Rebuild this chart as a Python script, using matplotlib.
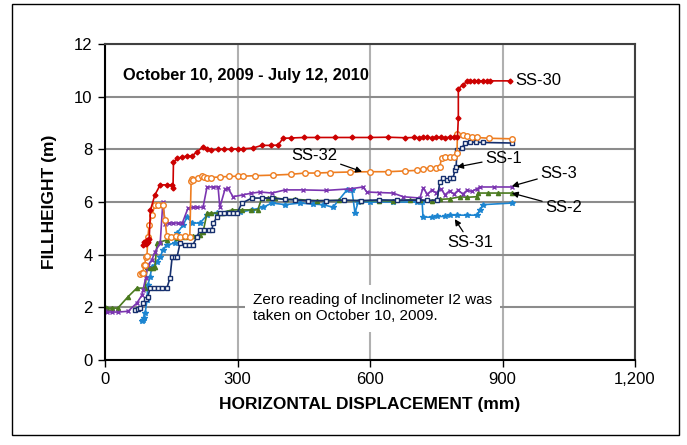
import matplotlib
matplotlib.use("Agg")
import matplotlib.pyplot as plt
from matplotlib.ticker import FuncFormatter
from matplotlib.patches import Rectangle

plt.rcParams["font.family"] = ["Liberation Sans", "DejaVu Sans"]

# horizontal displacement (mm) vs fill height (m) for each inclinometer
ss30_x = [85, 88, 90, 92, 94, 96, 98, 100, 103, 113, 125, 140, 152, 154, 155, 163, 175, 186, 197,
          208, 222, 231, 240, 255, 270, 285, 300, 312, 335, 355, 375, 392, 403, 420, 450, 480, 520,
          560, 600, 640, 680, 700, 710, 720, 730, 740, 750, 760, 770, 780, 790, 798, 800, 800, 810,
          820, 826, 835, 845, 855, 865, 872, 917]
ss30_y = [4.35, 4.5, 4.45, 4.4, 4.55, 4.45, 4.5, 4.6, 5.7, 6.27, 6.65, 6.65, 6.65, 6.55, 7.5, 7.66,
          7.7, 7.75, 7.75, 7.9, 8.1, 8.0, 7.97, 8.0, 8.0, 8.0, 8.02, 8.02, 8.05, 8.15, 8.15, 8.16,
          8.42, 8.43, 8.45, 8.45, 8.45, 8.45, 8.45, 8.46, 8.44, 8.45, 8.44, 8.45, 8.46, 8.44, 8.45,
          8.45, 8.44, 8.46, 8.45, 8.45, 9.2, 10.3, 10.45, 10.58, 10.6, 10.6, 10.6, 10.6, 10.6, 10.6,
          10.6]

ss32_x = [80, 84, 86, 88, 90, 92, 95, 97, 100, 106, 113, 120, 131, 136, 140, 150, 160, 170, 180,
          192, 195, 197, 200, 210, 220, 225, 230, 240, 260, 280, 300, 312, 340, 380, 420, 453, 480,
          510, 555, 600, 640, 680, 706, 720, 736, 750, 758, 762, 770, 780, 790, 797, 798, 810, 820,
          831, 842, 870, 921]
ss32_y = [3.25, 3.3, 3.3, 3.6, 3.6, 3.9, 3.95, 4.67, 5.13, 5.5, 5.88, 5.9, 5.88, 5.3, 4.7, 4.67,
          4.7, 4.67, 4.7, 4.67, 6.8, 6.87, 6.85, 6.9, 7.0, 6.95, 6.9, 6.93, 6.95, 6.97, 6.98, 6.98,
          7.0, 7.02, 7.05, 7.1, 7.1, 7.12, 7.14, 7.15, 7.15, 7.18, 7.2, 7.25, 7.3, 7.3, 7.33, 7.67,
          7.7, 7.7, 7.72, 7.85, 8.6, 8.55, 8.52, 8.48, 8.45, 8.42, 8.4]

ss1_x = [68, 75, 80, 86, 92, 97, 102, 110, 120, 130, 140, 147, 152, 158, 163, 170, 181, 190, 199,
         208, 215, 225, 235, 242, 245, 254, 260, 270, 280, 290, 299, 310, 333, 355, 378, 408, 430,
         460, 500, 540, 580, 620, 660, 709, 730, 752, 758, 765, 775, 781, 788, 792, 795, 797, 808,
         815, 826, 840, 856, 921]
ss1_y = [1.9, 1.95, 1.97, 2.15, 2.3, 2.4, 2.73, 2.73, 2.73, 2.73, 2.73, 3.1, 3.9, 3.9, 3.9, 4.44,
         4.37, 4.37, 4.37, 4.67, 4.94, 4.94, 4.94, 4.94, 5.2, 5.43, 5.58, 5.58, 5.58, 5.58, 5.58,
         5.96, 6.15, 6.15, 6.15, 6.1, 6.08, 6.05, 6.05, 6.07, 6.05, 6.08, 6.07, 6.07, 6.06, 6.07,
         6.76, 6.9, 6.85, 6.9, 6.9, 7.2, 7.33, 7.97, 8.05, 8.24, 8.28, 8.27, 8.26, 8.24]

ss3_x = [0, 5, 15, 29, 52, 72, 84, 86, 92, 97, 106, 113, 125, 131, 136, 145, 155, 165, 175, 188,
         200, 208, 222, 231, 245, 256, 260, 272, 278, 290, 312, 330, 351, 378, 408, 448, 500, 555,
         584, 593, 620, 652, 675, 713, 720, 730, 740, 750, 760, 770, 780, 790, 800, 810, 820, 830,
         842, 849, 880, 921]
ss3_y = [1.85, 1.82, 1.82, 1.82, 1.85, 2.16, 2.47, 2.66, 3.1, 3.6, 3.8, 4.1, 4.44, 6.0, 5.17, 5.2,
         5.2, 5.2, 5.2, 5.77, 5.8, 5.8, 5.8, 6.57, 6.57, 6.57, 5.8, 6.5, 6.53, 6.2, 6.27, 6.33,
         6.38, 6.34, 6.46, 6.46, 6.44, 6.5, 6.57, 6.38, 6.36, 6.34, 6.2, 6.15, 6.53, 6.3, 6.45,
         6.35, 6.5, 6.28, 6.42, 6.3, 6.45, 6.3, 6.45, 6.4, 6.5, 6.57, 6.57, 6.57]

ss2_x = [0, 5, 15, 29, 52, 72, 91, 95, 102, 109, 113, 118, 125, 140, 163, 181, 200, 215, 222, 231,
         240, 255, 265, 288, 310, 330, 346, 355, 370, 385, 410, 430, 480, 530, 580, 620, 652, 690,
         713, 740, 758, 780, 804, 820, 842, 845, 867, 890, 921]
ss2_y = [2.0, 1.97, 1.97, 1.97, 2.4, 2.73, 2.73, 3.53, 3.5, 3.5, 3.55, 4.44, 4.48, 4.56, 4.63,
         4.67, 4.7, 4.75, 4.86, 5.58, 5.58, 5.58, 5.6, 5.7, 5.7, 5.7, 5.7, 6.15, 6.15, 6.15, 6.1,
         6.1, 6.05, 6.06, 6.05, 6.05, 6.04, 6.08, 6.07, 6.05, 6.1, 6.12, 6.2, 6.18, 6.2, 6.34,
         6.34, 6.34, 6.34]

ss31_x = [84, 86, 88, 91, 95, 97, 102, 106, 118, 125, 131, 140, 158, 163, 177, 186, 197, 215, 231,
          254, 276, 306, 333, 358, 378, 408, 442, 470, 494, 516, 548, 559, 566, 573, 600, 652, 706,
          718, 720, 740, 752, 770, 781, 797, 820, 842, 849, 856, 921]
ss31_y = [1.5, 1.52, 1.6, 1.78, 2.28, 2.85, 3.15, 3.53, 3.72, 3.9, 4.18, 4.37, 4.44, 4.82, 5.13,
          5.43, 5.2, 5.2, 5.5, 5.58, 5.6, 5.62, 5.7, 5.8, 5.96, 5.9, 5.96, 5.92, 5.9, 5.8, 6.46,
          6.46, 5.58, 6.0, 6.0, 6.0, 6.0, 6.0, 5.43, 5.42, 5.45, 5.45, 5.5, 5.5, 5.5, 5.5, 5.7,
          5.9, 5.96]

fig = plt.figure(figsize=(6.87, 4.45), dpi=100)
ax = fig.add_axes([105 / 687, 1 - 360 / 445, 530 / 687, 316 / 445])

fig.patches.append(Rectangle((12 / 687, 10 / 445), 667 / 687, 431 / 445, transform=fig.transFigure,
                             fill=False, edgecolor="black", lw=1))

ax.plot(ss31_x, ss31_y, color="#1C85D1", lw=1.2, marker="*", ms=4)
ax.plot(ss2_x, ss2_y, color="#4A7A1E", lw=1.2, marker="^", ms=3)
ax.plot(ss3_x, ss3_y, color="#7B35B0", lw=1.2, marker="x", ms=3.5, mew=1)
ax.plot(ss1_x, ss1_y, color="#17306E", lw=1.2, marker="s", ms=3.5, mfc="white", mew=1)
ax.plot(ss32_x, ss32_y, color="#EE7D20", lw=1.2, marker="o", ms=4, mfc="white", mew=1)
ax.plot(ss30_x, ss30_y, color="#CC0000", lw=1.2, marker="D", ms=2.5)

ax.set_xlim(0, 1200)
ax.set_ylim(0, 12)
ax.set_xticks([0, 300, 600, 900, 1200])
ax.set_yticks([0, 2, 4, 6, 8, 10, 12])
ax.xaxis.set_major_formatter(FuncFormatter(lambda v, p: f"{v:,.0f}"))
ax.tick_params(direction="out", length=5, width=1, labelsize=12, pad=4)
ax.set_axisbelow(True)
ax.yaxis.grid(True, color="#8c8c8c", lw=1.5)
ax.xaxis.grid(True, color="#b0b0b0", lw=1.5)
for s in ax.spines.values():
    s.set_linewidth(1.5)
    s.set_color("#404040")
ax.spines["left"].set_color("black")
ax.spines["bottom"].set_color("black")

ax.set_xlabel("HORIZONTAL DISPLACEMENT (mm)", fontsize=12.5, fontweight="bold", labelpad=7)
ax.set_ylabel("FILLHEIGHT (m)", fontsize=12.5, fontweight="bold", labelpad=12)

ax.text(40, 10.8, "October 10, 2009 - July 12, 2010", fontsize=11.8, fontweight="bold", va="center")

ax.text(335, 1.97, "Zero reading of Inclinometer I2 was\ntaken on October 10, 2009.", fontsize=11,
        va="center", ha="left", zorder=5,
        bbox=dict(facecolor="white", edgecolor="none", pad=6))

arrow = dict(arrowstyle="-|>", color="black", lw=0.9, mutation_scale=9, shrinkA=0, shrinkB=0)
ax.text(928, 10.6, "SS-30", fontsize=12, va="center", ha="left")
ax.annotate("SS-32", xy=(582, 7.15), xytext=(475, 7.78), fontsize=12, ha="center", va="center",
            arrowprops=arrow)
ax.annotate("SS-1", xy=(797, 7.33), xytext=(860, 7.67), fontsize=12, ha="left", va="center",
            arrowprops=arrow)
ax.annotate("SS-3", xy=(921, 6.6), xytext=(985, 7.1), fontsize=12, ha="left", va="center",
            arrowprops=arrow)
ax.annotate("SS-2", xy=(921, 6.34), xytext=(996, 5.81), fontsize=12, ha="left", va="center",
            arrowprops=arrow)
ax.annotate("SS-31", xy=(792, 5.35), xytext=(826, 4.48), fontsize=12, ha="center", va="center",
            arrowprops=arrow)

fig.savefig("out.png", dpi=100)
